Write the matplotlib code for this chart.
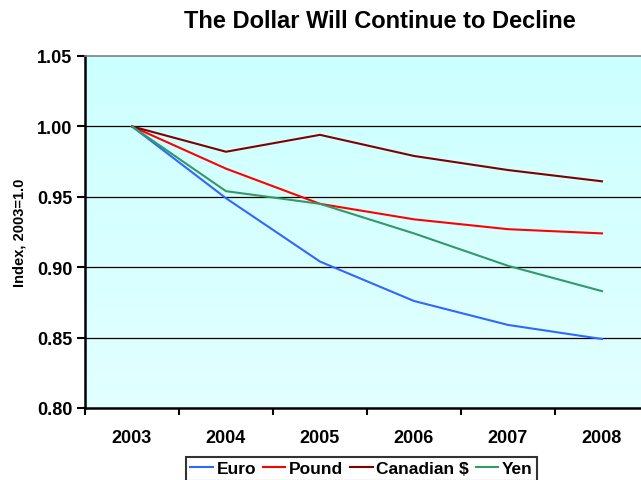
import matplotlib.pyplot as plt
import numpy as np
from matplotlib.colors import LinearSegmentedColormap

years = ['2003', '2004', '2005', '2006', '2007', '2008']
euro = [1.000, 0.949, 0.904, 0.876, 0.859, 0.849]
pound = [1.000, 0.970, 0.945, 0.934, 0.927, 0.924]
cad = [1.000, 0.982, 0.994, 0.979, 0.969, 0.961]
yen = [1.000, 0.954, 0.945, 0.924, 0.901, 0.883]

plt.rcParams['font.family'] = ['Liberation Sans', 'DejaVu Sans']
plt.rcParams['font.weight'] = 'bold'

fig = plt.figure(figsize=(6.41, 4.81), dpi=100)
ax = fig.add_axes([85 / 641, 72 / 481, 564 / 641, 352 / 481])

x = np.arange(len(years))

# light cyan gradient background, darker at the top
grad = np.linspace(0, 1, 100).reshape(-1, 1)
cmap = LinearSegmentedColormap.from_list('bg', ['#E2FFFF', '#CCFFFF'])
ax.imshow(grad, aspect='auto', cmap=cmap, origin='lower',
          extent=[-0.5, 5.5, 0.80, 1.05], zorder=0)
ax.set_xlim(-0.5, 5.5)
ax.set_ylim(0.80, 1.05)

for yv in [0.85, 0.90, 0.95, 1.00]:
    ax.axhline(yv, color='black', linewidth=0.9, zorder=1)

ax.plot(x, euro, color='#3366FF', linewidth=1.5, label='Euro', zorder=3)
ax.plot(x, pound, color='#FF0000', linewidth=1.5, label='Pound', zorder=3)
ax.plot(x, cad, color='#800000', linewidth=1.5, label='Canadian $', zorder=3)
ax.plot(x, yen, color='#339966', linewidth=1.5, label='Yen', zorder=3)

ax.set_xticks(x)
ax.set_xticklabels(years, fontsize=13, fontweight='bold')
ax.set_xticks(np.arange(-0.5, 6, 1), minor=True)
ax.tick_params(axis='x', which='major', length=0, pad=15)
ax.tick_params(axis='x', which='minor', length=5, width=1.5, direction='out')
ax.set_yticks([0.80, 0.85, 0.90, 0.95, 1.00, 1.05])
ax.set_yticklabels(['0.80', '0.85', '0.90', '0.95', '1.00', '1.05'],
                   fontsize=13, fontweight='bold')
ax.tick_params(axis='y', length=6, width=1.5, direction='out', pad=3)

ax.spines['left'].set_linewidth(1.8)
ax.spines['bottom'].set_linewidth(1.8)
ax.spines['top'].set_color('#808080')
ax.spines['top'].set_linewidth(1.2)
ax.spines['right'].set_visible(False)

ax.set_ylabel('Index, 2003=1.0', fontsize=10.5, fontweight='bold', labelpad=8)
fig.text(380 / 641, 1 - 22 / 481, 'The Dollar Will Continue to Decline',
         ha='center', va='center', fontsize=17, fontweight='bold')

leg = fig.legend(loc='upper left', bbox_to_anchor=(186 / 641, 1 - 458 / 481),
                 ncol=4, frameon=True, fancybox=False, fontsize=12.5,
                 handlelength=1.3, handletextpad=0.2, columnspacing=0.4,
                 borderpad=0.25, borderaxespad=0)
leg.get_frame().set_edgecolor('black')
leg.get_frame().set_linewidth(1.5)
for t in leg.get_texts():
    t.set_fontweight('bold')

fig.savefig('out.png', dpi=100)
